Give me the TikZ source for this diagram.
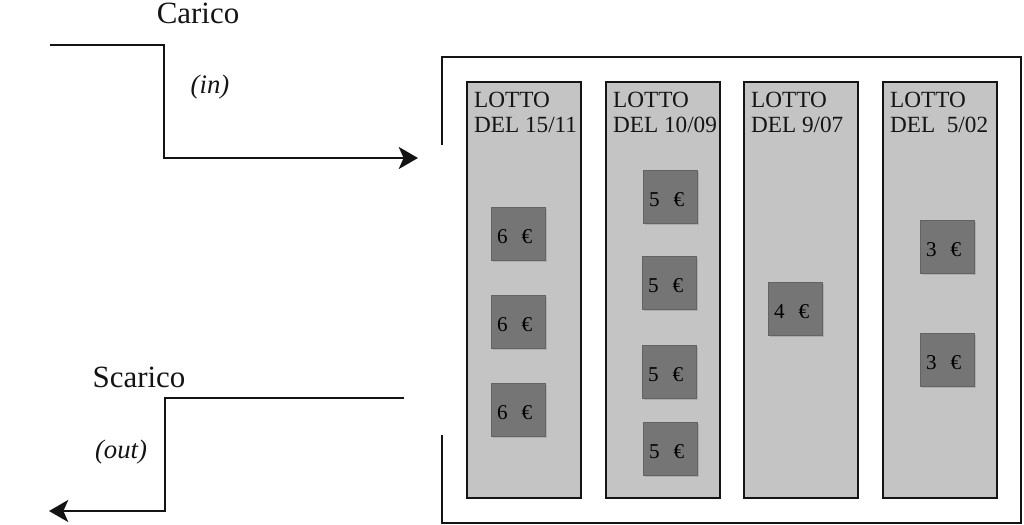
\documentclass[tikz,border=0pt]{standalone}
\usepackage{fontspec}
\setmainfont{Liberation Serif}
\usepackage{xcolor}
\usepackage{tikz}
\usetikzlibrary{calc}
\usetikzlibrary{arrows.meta}
\usetikzlibrary{shadows}
\definecolor{colfill}{RGB}{196,196,196}
\definecolor{boxfill}{RGB}{117,117,117}
\definecolor{lineblack}{RGB}{20,20,20}

\begin{document}
\begin{tikzpicture}[x=0.025cm,y=-0.025cm,
        lotto/.style={draw=lineblack,line width=1.6pt,fill=colfill,minimum width=2.85cm,minimum height=10.4cm,inner sep=0pt},
        lottolbl/.style={anchor=north west,align=left,inner sep=0pt,font=\fontsize{16.5}{17.5}\selectfont,text=lineblack},
        euro/.style={fill=boxfill,draw=boxfill!85!black,line width=0.4pt,minimum width=1.35cm,minimum height=1.33cm,text width=1.05cm,text height=0.45cm,text depth=0pt,align=left,inner xsep=0.15cm,font=\fontsize{15}{16}\selectfont,text=black,drop shadow={shadow xshift=0.04cm,shadow yshift=-0.04cm,opacity=0.35}},
        flow/.style={line width=1.6pt,draw=lineblack,-{Stealth[length=0.48cm,width=0.55cm,inset=0.12cm]}},
        flowlbl/.style={font=\fontsize{22}{24}\selectfont,text=lineblack},
        dirlbl/.style={font=\fontsize{19}{21}\selectfont\itshape,text=lineblack}]
        \useasboundingbox (0,0) rectangle (1024,525);
        \draw[line width=1.6pt,draw=lineblack] (442,145)--(442,57)--(1021,57)--(1021,523)--(442,523)--(442,435);
        \node[lotto] (col1) at (524,290) {};
        \node[lotto] (col2) at (663,290) {};
        \node[lotto] (col3) at (801,290) {};
        \node[lotto] (col4) at (940,290) {};
        \node[lottolbl] (lbl1) at ($(col1.north west)+(8,11)$) {LOTTO\\DEL 15/11};
        \node[lottolbl] (lbl2) at ($(col2.north west)+(8,11)$) {LOTTO\\DEL 10/09};
        \node[lottolbl] (lbl3) at ($(col3.north west)+(8,11)$) {LOTTO\\DEL 9/07};
        \node[lottolbl] (lbl4) at ($(col4.north west)+(8,11)$) {LOTTO\\DEL\ \ 5/02};
        \node[euro] (e11) at (518,234) {6\ \ €};
        \node[euro] (e12) at (518,322) {6\ \ €};
        \node[euro] (e13) at (518,410) {6\ \ €};
        \node[euro] (e21) at (670,197) {5\ \ €};
        \node[euro] (e22) at (669,283) {5\ \ €};
        \node[euro] (e23) at (669,372) {5\ \ €};
        \node[euro] (e24) at (670,449) {5\ \ €};
        \node[euro] (e31) at (795,309) {4\ \ €};
        \node[euro] (e41) at (947,247) {3\ \ €};
        \node[euro] (e42) at (947,360) {3\ \ €};
        \coordinate (inA) at (50,45);
        \coordinate (inB) at (164,45);
        \coordinate (inC) at (164,158);
        \coordinate (inD) at (418,158);
        \coordinate (outA) at (404,398);
        \coordinate (outB) at (165,398);
        \coordinate (outC) at (165,511);
        \coordinate (outD) at (49,511);
        \draw[flow] (inA)--(inB)--(inC)--(inD);
        \draw[flow] (outA)--(outB)--(outC)--(outD);
        \node[flowlbl] (carico) at (198,13) {Carico};
        \node[dirlbl] (in) at (210,87) {(in)};
        \node[flowlbl] (scarico) at (139,377) {Scarico};
        \node[dirlbl] (out) at (121,452) {(out)};
    \end{tikzpicture}
\end{document}
